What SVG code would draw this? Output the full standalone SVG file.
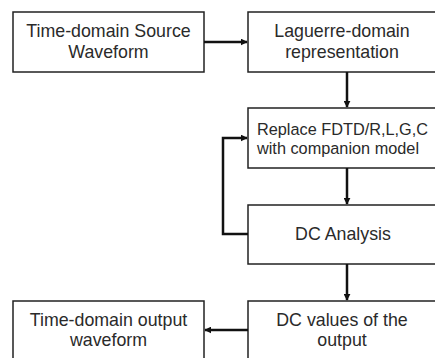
<svg xmlns="http://www.w3.org/2000/svg" width="435" height="358" viewBox="0 0 435 358">
<defs>
<style>
.box{fill:#fff;stroke:#222;stroke-width:1.5}
.t{font-family:"Liberation Sans",Arial,sans-serif;font-size:17.8px;fill:#2a2a2a;text-anchor:middle}
.s{font-family:"Liberation Sans",Arial,sans-serif;font-size:16.3px;fill:#2a2a2a}
.c{fill:none;stroke:#111;stroke-width:2.5}
</style>
<marker id="ah" viewBox="0 0 10 10" refX="9" refY="5" markerWidth="2.8" markerHeight="2.8" orient="auto" markerUnits="strokeWidth">
<path d="M0,0 L10,5 L0,10 z" fill="#111"/>
</marker>
</defs>
<rect width="435" height="358" fill="#fff"/>
<g id="n1"><rect class="box" x="13" y="12" width="191" height="60"/><text class="t" x="108.5" y="37">Time-domain Source</text><text class="t" x="108.5" y="58">Waveform</text></g>
<g id="n2"><rect class="box" x="248" y="12" width="200" height="60"/><text class="t" x="342" y="37">Laguerre-domain</text><text class="t" x="342" y="58">representation</text></g>
<g id="n3"><rect class="box" x="248" y="108" width="200" height="60"/><text class="s" x="257" y="135">Replace FDTD/R,L,G,C</text><text class="s" x="257" y="154">with companion model</text></g>
<g id="n4"><rect class="box" x="248" y="205" width="200" height="59"/><text class="t" x="343" y="240">DC Analysis</text></g>
<g id="n5"><rect class="box" x="248" y="301" width="200" height="70"/><text class="t" x="342" y="326">DC values of the</text><text class="t" x="342" y="346">output</text></g>
<g id="n6"><rect class="box" x="13" y="301" width="191" height="70"/><text class="t" x="108.5" y="326">Time-domain output</text><text class="t" x="108.5" y="346">waveform</text></g>
<g id="connectors">
<line class="c" x1="204" y1="42" x2="247" y2="42" marker-end="url(#ah)"/>
<line class="c" x1="347" y1="72" x2="347" y2="107" marker-end="url(#ah)"/>
<line class="c" x1="347" y1="168" x2="347" y2="204" marker-end="url(#ah)"/>
<polyline class="c" points="248,234 223,234 223,138 247,138" marker-end="url(#ah)"/>
<line class="c" x1="347" y1="264" x2="347" y2="300" marker-end="url(#ah)"/>
<line class="c" x1="248" y1="330" x2="205" y2="330" marker-end="url(#ah)"/>
</g>
</svg>
